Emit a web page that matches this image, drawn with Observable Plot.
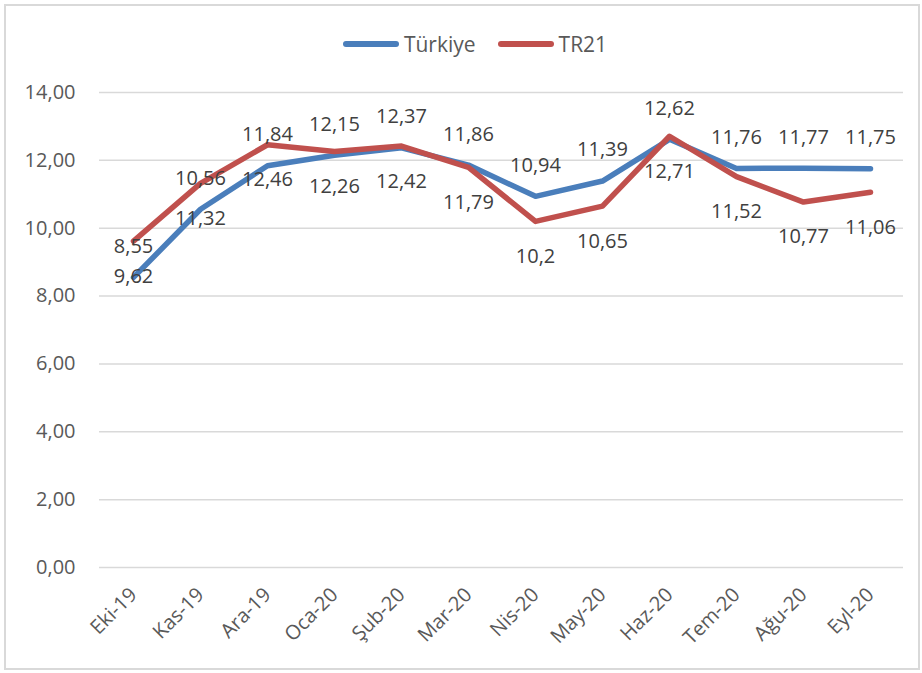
<!DOCTYPE html>
<html><head><meta charset="utf-8">
<script src="https://cdn.jsdelivr.net/npm/d3@7"></script>
<script src="https://cdn.jsdelivr.net/npm/@observablehq/plot@0.6"></script>
<style>
body{margin:0;background:#fff;font-family:"Open Sans",sans-serif;}
#wrap{position:relative;width:922px;height:673px;overflow:hidden;}
#frame{position:absolute;left:4px;top:4px;width:912px;height:662px;border:2px solid #d9d9d9;}
#legend{position:absolute;top:25px;left:14px;width:922px;text-align:center;font-size:21px;color:#595959;}
#legend span.item{display:inline-flex;align-items:center;margin:0 11px;}
#legend span.sw{display:inline-block;width:56px;height:6px;border-radius:3px;margin-right:5px;}
#chart{position:absolute;left:0;top:60px;}
</style></head>
<body><div id="wrap"><div id="frame"></div><div id="legend"></div><div id="chart"></div></div>
<script>
const months = ["Eki-19","Kas-19","Ara-19","Oca-20","Şub-20","Mar-20","Nis-20","May-20","Haz-20","Tem-20","Ağu-20","Eyl-20"];
const turkiye = [8.55,10.56,11.84,12.15,12.37,11.86,10.94,11.39,12.62,11.76,11.77,11.75];
const tr21 = [9.62,11.32,12.46,12.26,12.42,11.79,10.2,10.65,12.71,11.52,10.77,11.06];
const seriesNames = ["Türkiye","TR21"];
const colors = ["#4a7ebb","#c0504d"];
const yTicks = [0,2,4,6,8,10,12,14];

const fmt = v => v.toFixed(2).replace(".", ",");
const lab = v => String(v).replace(".", ",");
const rows = [];
months.forEach((m,i)=>{
  rows.push({month:m, value:turkiye[i], series:seriesNames[0]});
  rows.push({month:m, value:tr21[i], series:seriesNames[1]});
});
const tRows = rows.filter(d=>d.series===seriesNames[0]);
const rRows = rows.filter(d=>d.series===seriesNames[1]);

const leg = document.getElementById("legend");
seriesNames.forEach((s,i)=>{
  const it=document.createElement("span");it.className="item";
  const sw=document.createElement("span");sw.className="sw";sw.style.background=colors[i];
  it.appendChild(sw);it.appendChild(document.createTextNode(s));leg.appendChild(it);
});

const chart = Plot.plot({
  width: 922, height: 600,
  marginLeft: 99, marginRight: 19, marginTop: 32, marginBottom: 93,
  style:{fontFamily:'"Open Sans",sans-serif', fontSize:"20px", color:"#595959", background:"transparent"},
  x:{type:"point", domain: months, padding:0.5, label:null},
  y:{domain:[0,14], ticks:yTicks, label:null},
  marks:[
    Plot.ruleY(yTicks, {stroke:"#d9d9d9", strokeWidth:1.5, strokeOpacity:1}),
    Plot.axisY({ticks:yTicks, tickFormat:fmt, tickSize:0, tickPadding:24, label:null, fontSize:20}),
    Plot.axisX({tickRotate:-45, tickSize:0, tickPadding:24, label:null, fontSize:20}),
    Plot.line(tRows, {x:"month", y:"value", stroke:colors[0], strokeWidth:5.5, strokeLinecap:"round", strokeLinejoin:"round"}),
    Plot.line(rRows, {x:"month", y:"value", stroke:colors[1], strokeWidth:5.5, strokeLinecap:"round", strokeLinejoin:"round"}),
    Plot.text(tRows, {x:"month", y:"value", text:d=>lab(d.value), dy:-31, fill:"#404040", fontSize:20}),
    Plot.text(rRows, {x:"month", y:"value", text:d=>lab(d.value), dy:35, fill:"#404040", fontSize:20})
  ]
});
document.getElementById("chart").appendChild(chart);
</script></body></html>
